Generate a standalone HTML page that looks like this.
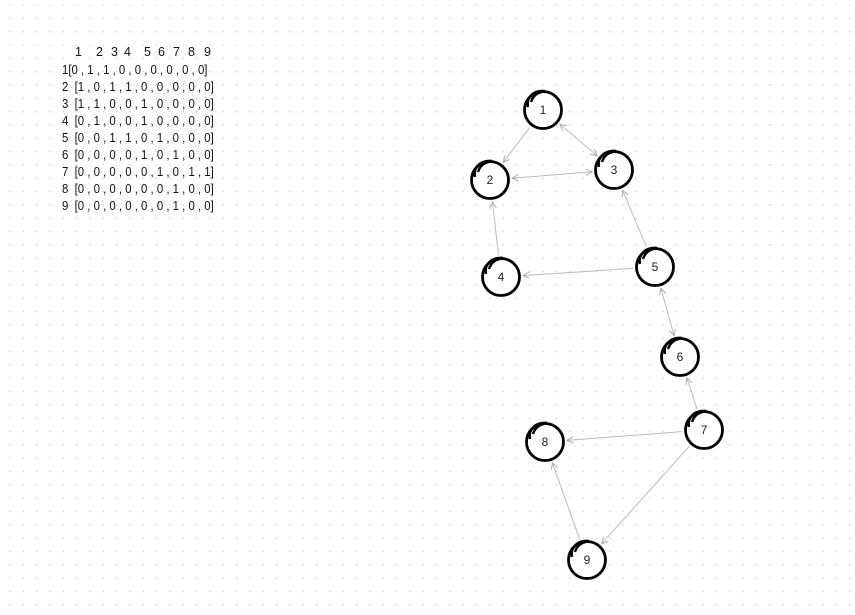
<!DOCTYPE html>
<html><head><meta charset="utf-8"><style>
body{margin:0;background:#fff;width:855px;height:615px;overflow:hidden;font-family:"Liberation Sans",sans-serif}
#m{position:absolute;left:62px;top:62px;font-size:12.5px;line-height:17px;color:#111;white-space:pre;transform:scaleX(0.91);transform-origin:0 0}
.h{position:absolute;top:45px;font-size:12.5px;color:#111}
</style></head><body>
<svg id="s" width="855" height="615" style="position:absolute;left:0;top:0">
<defs><marker id="ar" viewBox="0 0 10 10" refX="9" refY="5" markerWidth="8" markerHeight="8" orient="auto-start-reverse"><path d="M1,1 L9,5 L1,9" fill="none" stroke="#aaa" stroke-width="1.2"/></marker></defs>
<g id="dots"></g><g id="edges"></g><g id="nodes"></g></svg>
<div>
<span class="h" style="left:75px">1</span><span class="h" style="left:96px">2</span><span class="h" style="left:111px">3</span><span class="h" style="left:124px">4</span><span class="h" style="left:144px">5</span><span class="h" style="left:158px">6</span><span class="h" style="left:173px">7</span><span class="h" style="left:188px">8</span><span class="h" style="left:204px">9</span></div>
<div id="m">1[0 , 1 , 1 , 0 , 0 , 0 , 0 , 0 , 0]
2  [1 , 0 , 1 , 1 , 0 , 0 , 0 , 0 , 0]
3  [1 , 1 , 0 , 0 , 1 , 0 , 0 , 0 , 0]
4  [0 , 1 , 0 , 0 , 1 , 0 , 0 , 0 , 0]
5  [0 , 0 , 1 , 1 , 0 , 1 , 0 , 0 , 0]
6  [0 , 0 , 0 , 0 , 1 , 0 , 1 , 0 , 0]
7  [0 , 0 , 0 , 0 , 0 , 1 , 0 , 1 , 1]
8  [0 , 0 , 0 , 0 , 0 , 0 , 1 , 0 , 0]
9  [0 , 0 , 0 , 0 , 0 , 0 , 1 , 0 , 0]</div>
<script>
const nodeIds=[1,2,3,4,5,6,7,8,9];
const nodeX=[543,490,614,501,655,680,704,545,587];
const nodeY=[110,180,170,277,267,357,430,442,560];
const edgeFrom=[1,1,2,4,5,5,5,7,7,7,9];
const edgeTo=[2,3,3,2,3,4,6,6,8,9,8];
const edgeBoth=[0,1,1,0,0,0,1,0,0,0,0];
const NS="http://www.w3.org/2000/svg";
const dots=document.getElementById('dots');
for(let y=5;y<615;y+=13.33)for(let x=10;x<855;x+=13.33){const c=document.createElementNS(NS,'circle');c.setAttribute('cx',x);c.setAttribute('cy',y);c.setAttribute('r',0.8);c.setAttribute('fill','#d4d4d4');dots.appendChild(c);}
const R=22;
const eg=document.getElementById('edges');
edgeFrom.forEach((f,i)=>{const a=f-1,b=edgeTo[i]-1;const dx=nodeX[b]-nodeX[a],dy=nodeY[b]-nodeY[a],d=Math.hypot(dx,dy);
const l=document.createElementNS(NS,'line');


l.setAttribute('x1',nodeX[a]+dx/d*R);l.setAttribute('y1',nodeY[a]+dy/d*R);l.setAttribute('x2',nodeX[b]-dx/d*R);l.setAttribute('y2',nodeY[b]-dy/d*R);
l.setAttribute('stroke','#bbb');l.setAttribute('stroke-width','1');l.setAttribute('marker-end','url(#ar)');if(edgeBoth[i])l.setAttribute('marker-start','url(#ar)');eg.appendChild(l);});
const ng=document.getElementById('nodes');
nodeIds.forEach((id,i)=>{const g=document.createElementNS(NS,'g');


const x=nodeX[i],y=nodeY[i];
g.innerHTML=`<circle cx="${x}" cy="${y}" r="18.5" fill="#fff" stroke="#000" stroke-width="2.8"/><path d="M${x-15},${y-3} C${x-17},${y-14} ${x-8},${y-20} ${x+2},${y-19} M${x-12},${y-8} C${x-10},${y-14} ${x-6},${y-17} ${x-1},${y-18}" fill="none" stroke="#000" stroke-width="2.4"/><text x="${x}" y="${y+4}" text-anchor="middle" font-size="12" fill="#222">${id}</text>`;
ng.appendChild(g);});
</script>
</body></html>
